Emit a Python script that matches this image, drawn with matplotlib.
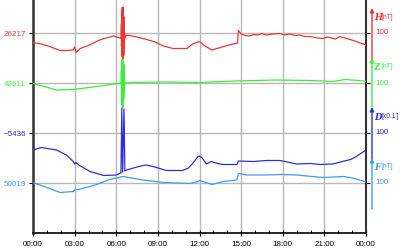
import matplotlib
matplotlib.use('Agg')
import matplotlib.pyplot as plt
from matplotlib.ticker import MultipleLocator

# ---- data (hours, values) ----
H_base = 26217
Z_base = 42611
D_base = -5436
F_base = 50019

H_t = [0, 0.6, 1.2, 1.95, 2.5, 2.9, 3.0, 3.1, 3.4, 3.9, 4.8, 5.4, 5.8, 6.15, 6.3,
       6.36, 6.37, 6.38, 6.39, 6.40, 6.41, 6.42, 6.43, 6.44, 6.45, 6.46, 6.47, 6.48, 6.49,
       6.50, 6.51, 6.52, 6.53, 6.54, 6.55, 6.56, 6.57, 6.58, 6.59, 6.60, 6.61, 6.62,
       6.75, 7.5, 8.2, 8.8, 9.4, 10.1, 11.1, 11.5, 11.8, 12.0, 12.4, 12.9, 13.5, 14.0, 14.6,
       14.75, 14.8, 15.0, 15.3, 15.6, 15.9, 16.2, 16.5, 16.8, 17.3, 17.8, 18.1, 18.5, 18.9,
       19.2, 19.6, 20.0, 20.5, 20.9, 21.2, 21.5, 21.8, 22.1, 22.6, 23.1, 23.6, 24.0]
H_v = [26198, 26195, 26190, 26182, 26182, 26183, 26189, 26178, 26186, 26191, 26203,
       26208, 26211, 26208, 26207,
       26207, 26235, 26190, 26262, 26180, 26245, 26170, 26268, 26200, 26240, 26190, 26232,
       26165, 26228, 26196, 26269, 26178, 26238, 26172, 26250, 26199, 26226, 26188, 26218,
       26204, 26214, 26208,
       26213, 26209, 26204, 26199, 26191, 26186, 26186, 26195, 26198, 26200, 26191, 26183,
       26188, 26192, 26196, 26197, 26222, 26215, 26212, 26211, 26214, 26213, 26216, 26213,
       26215, 26216, 26213, 26215, 26212, 26213, 26210, 26210, 26207, 26206, 26209, 26207,
       26205, 26210, 26206, 26202, 26197, 26193]

Z_t = [0, 0.8, 1.7, 2.9, 4.6, 6.1, 6.3,
       6.36, 6.37, 6.38, 6.39, 6.40, 6.41, 6.42, 6.43, 6.44, 6.45, 6.46, 6.47, 6.48, 6.49,
       6.50, 6.51, 6.52, 6.53, 6.54, 6.55, 6.56, 6.57, 6.58, 6.59, 6.60, 6.61, 6.62,
       7.0, 9.4, 12.0, 14.6, 17.5, 20.0, 21.6, 22.5, 23.5, 24.0]
Z_v = [42610, 42604, 42597, 42598, 42604, 42610, 42611,
       42611, 42637, 42587, 42657, 42567, 42627, 42597, 42650, 42575, 42630, 42590, 42658,
       42562, 42620, 42585, 42642, 42600, 42625, 42580, 42648, 42595, 42618, 42600, 42615,
       42605, 42613, 42610,
       42612, 42613, 42612, 42615, 42617, 42616, 42614, 42618, 42616, 42614]

D_t = [0, 0.6, 1.7, 2.4, 2.9, 3.0, 3.1, 3.3, 4.1, 5.1, 6.0, 6.3,
       6.34, 6.40, 6.46, 6.56, 6.62,
       6.75, 7.5, 8.1, 8.5, 8.9, 9.6, 10.8, 11.2, 11.5, 11.9, 12.0, 12.2, 12.5, 12.85, 13.3,
       13.7, 14.7, 14.8, 15.9, 16.8, 17.8, 18.5, 19.0, 20.0, 20.7, 21.6, 22.3, 22.9, 23.3,
       23.9, 24.0]
D_v = [-5470, -5465, -5470, -5480, -5493, -5498, -5495, -5500, -5513, -5521, -5520, -5516,
       -5516, -5386, -5514, -5388, -5512,
       -5510, -5504, -5500, -5502, -5505, -5511, -5511, -5506, -5497, -5483, -5482, -5486,
       -5498, -5493, -5497, -5499, -5499, -5492, -5493, -5491, -5491, -5495, -5498, -5497,
       -5499, -5498, -5493, -5489, -5483, -5472, -5471]

F_t = [0, 1.0, 1.95, 2.9, 3.05, 3.3, 4.6, 5.5, 6.5, 7.9, 9.4, 11.3, 11.9, 12.0, 12.9,
       13.7, 14.7, 14.8, 15.4, 16.8, 18.0, 19.0, 20.9, 22.4, 23.2, 23.9, 24.0]
F_v = [50020, 50010, 50000, 50002, 50006, 50006, 50016, 50026, 50032, 50025, 50020,
       50018, 50022, 50024, 50016, 50022, 50025, 50038, 50035, 50035, 50036, 50035,
       50030, 50032, 50028, 50022, 50021]

row_labels = ['26217', '42611', '\u22125436', '50019']
x_tick_labels = ['00:00', '03:00', '06:00', '09:00', '12:00', '15:00', '18:00', '21:00', '00:00']

# ---- style ----
cH, cZ, cD, cF = '#ee3535', '#3aee3a', '#2f2fd4', '#3d9cf2'
plt.rcParams['font.family'] = ['Liberation Sans', 'DejaVu Sans']

fig = plt.figure(figsize=(4, 2.5), dpi=100)
ax = fig.add_axes([33/400, 17/250, 333/400, 233/250])
ax.set_xlim(0, 24)
ax.set_ylim(0, 466)

pos = [400, 300, 200, 100]
bases = [H_base, Z_base, D_base, F_base]
series = [(H_t, H_v), (Z_t, Z_v), (D_t, D_v), (F_t, F_v)]
cols = [cH, cZ, cD, cF]

for p in pos:
    ax.axhline(p, color='#b8b8b8', lw=1.0, zorder=1)
for h in range(3, 24, 3):
    ax.axvline(h, color='#b8b8b8', lw=1.0, zorder=1)

for (t, v), b, p, c in zip(series, bases, pos, cols):
    ax.plot(t, [p + (x - b) for x in v], color=c, lw=0.9, zorder=3)

ax.set_yticks(pos)
ax.set_yticklabels(row_labels, fontsize=5.8)
for lab, c in zip(ax.get_yticklabels(), cols):
    lab.set_color(c)
ax.tick_params(axis='y', which='major', direction='out', length=3, width=0.8,
               right=True, pad=2)

ax.set_xticks(range(0, 25, 3))
ax.set_xticklabels(x_tick_labels, fontsize=5.8)
ax.xaxis.set_minor_locator(MultipleLocator(1))
ax.tick_params(axis='x', which='major', direction='inout', length=5, width=0.8, pad=3)
ax.tick_params(axis='x', which='minor', direction='in', length=2.5, width=0.7)

ax.spines['top'].set_visible(False)
ax.spines['left'].set_linewidth(1.8)
ax.spines['left'].set_color('#333333')
ax.spines['right'].set_linewidth(1.5)
ax.spines['right'].set_color('#333333')
ax.spines['bottom'].set_linewidth(1.2)

# right-side scale arrows and labels
arrow_px = [(60, 8), (109, 58), (159, 107), (209, 158)]
letters = ['H', 'Z', 'D', 'F']
units = ['[nT]', '[nT]', "[x0.1']", '[nT]']
styles = ['italic', 'normal', 'italic', 'italic']
label_px = [17, 67, 117, 167]
tick_px = [33, 83, 133, 183]
for (y0, y1), c, L, u, st, ly, ty in zip(arrow_px, cols, letters, units, styles, label_px, tick_px):
    ax.annotate('', xy=(372/400, 1 - y1/250), xytext=(372/400, 1 - y0/250),
                xycoords='figure fraction', textcoords='figure fraction',
                arrowprops=dict(arrowstyle='-|>', color=c, lw=1.0, mutation_scale=6,
                                shrinkA=0, shrinkB=0), annotation_clip=False)
    fig.text(374/400, 1 - ly/250, L, color=c, fontsize=6.2, fontweight='bold',
             fontstyle=st, family='DejaVu Serif', va='center', ha='left')
    fig.text(381/400, 1 - ly/250, u, color=c, fontsize=4.8, va='center', ha='left')
    fig.text(375/400, 1 - ty/250, '100', color=c, fontsize=5.8, va='center', ha='left')

fig.savefig('out.png', dpi=100)
